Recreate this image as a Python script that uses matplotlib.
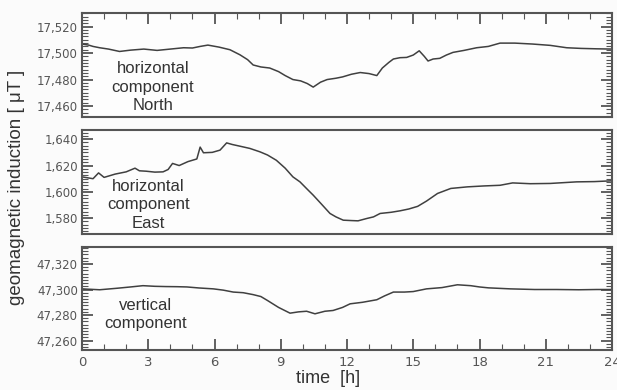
import matplotlib
matplotlib.use('Agg')
import matplotlib.pyplot as plt
from matplotlib.ticker import MultipleLocator, FuncFormatter

# hours
t_north = [0, 0.3, 0.5, 0.8, 1.2, 1.7, 2.2, 2.8, 3.4, 4.0, 4.6, 5.0, 5.35, 5.7, 6.2, 6.7,
           7.15, 7.5, 7.75, 8.1, 8.5, 8.9, 9.2, 9.55, 9.9, 10.2, 10.47, 10.8, 11.1, 11.5,
           11.8, 12.2, 12.6, 13.0, 13.35, 13.6, 13.9, 14.1, 14.4, 14.7, 15.0, 15.27, 15.5,
           15.67, 15.9, 16.2, 16.5, 16.8, 17.3, 17.87, 18.4, 18.93, 19.6, 20.4, 21.2,
           21.95, 22.6, 23.3, 24]
north = [17.5068, 17.5060, 17.5050, 17.5040, 17.5030, 17.5012, 17.5022, 17.5030, 17.5020,
         17.5030, 17.5040, 17.5038, 17.5050, 17.5060, 17.5045, 17.5025, 17.4987, 17.4950,
         17.4910, 17.4895, 17.4887, 17.4860, 17.4830, 17.4800, 17.4790, 17.4770, 17.4743,
         17.4780, 17.4800, 17.4810, 17.4820, 17.4840, 17.4853, 17.4845, 17.4830, 17.4887,
         17.4930, 17.4955, 17.4965, 17.4967, 17.4985, 17.5017, 17.4975, 17.4940, 17.4955,
         17.4960, 17.4985, 17.5005, 17.5020, 17.5040, 17.5050, 17.5075, 17.5075, 17.5068,
         17.5058, 17.5040, 17.5035, 17.5032, 17.5030]

t_east = [0, 0.5, 0.75, 1.0, 1.5, 2.0, 2.4, 2.6, 2.9, 3.3, 3.67, 3.9, 4.1, 4.4, 4.8, 5.2,
          5.35, 5.5, 5.9, 6.25, 6.55, 6.8, 7.15, 7.6, 8.06, 8.4, 8.8, 9.2, 9.55, 9.87, 10.2,
          10.47, 10.8, 11.23, 11.5, 11.83, 12.2, 12.5, 12.9, 13.2, 13.5, 14.0, 14.4, 14.8,
          15.2, 15.6, 16.1, 16.7, 17.45, 18.2, 18.93, 19.5, 20.3, 21.2, 21.8, 22.4, 23.2, 24]
east = [1.6114, 1.6100, 1.6144, 1.6110, 1.6135, 1.6152, 1.6180, 1.6160, 1.6157, 1.6150,
        1.6152, 1.6170, 1.6216, 1.6200, 1.6230, 1.6250, 1.6340, 1.6297, 1.6300, 1.6317,
        1.6372, 1.6360, 1.6347, 1.6330, 1.6304, 1.6280, 1.6240, 1.6180, 1.6114, 1.6076,
        1.6020, 1.5975, 1.5915, 1.5836, 1.5810, 1.5785, 1.5782, 1.5780, 1.5798, 1.5810,
        1.5836, 1.5845, 1.5856, 1.5870, 1.5890, 1.5930, 1.5988, 1.6026, 1.6038, 1.6045,
        1.6050, 1.6068, 1.6062, 1.6064, 1.6070, 1.6076, 1.6078, 1.6084]

t_vert = [0, 0.8, 1.6, 2.2, 2.76, 3.3, 3.8, 4.3, 4.75, 5.3, 5.95, 6.4, 6.85, 7.3, 7.75, 8.1,
          8.4, 8.9, 9.42, 9.8, 10.17, 10.55, 11.0, 11.37, 11.8, 12.14, 12.7, 13.35, 13.7,
          14.1, 14.6, 15.0, 15.6, 16.3, 17.0, 17.6, 18.0, 18.4, 19.4, 20.5, 21.5, 22.5,
          23.3, 24]
vert = [47.3005, 47.2998, 47.3010, 47.3020, 47.3030, 47.3025, 47.3023, 47.3022, 47.3020,
        47.3012, 47.3005, 47.2995, 47.2980, 47.2975, 47.2960, 47.2945, 47.2914, 47.2860,
        47.2815, 47.2825, 47.2830, 47.2810, 47.2830, 47.2836, 47.2860, 47.2888, 47.2900,
        47.2920, 47.2950, 47.2980, 47.2980, 47.2984, 47.3005, 47.3015, 47.3037, 47.3030,
        47.3020, 47.3013, 47.3005, 47.3000, 47.3000, 47.2998, 47.3000, 47.3000]

panels = [
    (t_north, north, (17.4515, 17.530), [17.46, 17.48, 17.50, 17.52],
     'horizontal\ncomponent\nNorth', (0.134, 0.29)),
    (t_east, east, (1.568, 1.647), [1.58, 1.60, 1.62, 1.64],
     'horizontal\ncomponent\nEast', (0.125, 0.279)),
    (t_vert, vert, (47.2527, 47.3335), [47.26, 47.28, 47.30, 47.32],
     'vertical\ncomponent', (0.119, 0.345)),
]

boxes = [(0.1329, 0.6992, 0.859, 0.2667),
         (0.1329, 0.4000, 0.859, 0.2667),
         (0.1329, 0.1026, 0.859, 0.2649)]

spine_col = '#555555'
text_col = '#333333'


def comma_fmt(v, pos):
    s = '%.3f' % v
    return s.replace('.', ',')


fig = plt.figure(figsize=(6.17, 3.90), dpi=100, facecolor='#fbfbfb')

for i, ((tt, vv, ylim, yt, label, tpos), box) in enumerate(zip(panels, boxes)):
    ax = fig.add_axes(box, facecolor='#fdfdfd')
    ax.plot(tt, vv, color='#404040', lw=1.1)
    ax.set_xlim(0, 24)
    ax.set_ylim(*ylim)
    ax.set_yticks(yt)
    ax.yaxis.set_minor_locator(MultipleLocator(0.0025))
    ax.yaxis.set_major_formatter(FuncFormatter(comma_fmt))
    ax.xaxis.set_major_locator(MultipleLocator(3))
    ax.xaxis.set_minor_locator(MultipleLocator(1))
    for sp in ax.spines.values():
        sp.set_color(spine_col)
        sp.set_linewidth(1.5)
    ax.tick_params(axis='y', which='both', direction='in', left=True, right=True,
                   color=spine_col, labelsize=8.5, labelcolor='#555555', pad=3)
    ax.tick_params(axis='y', which='major', length=8, width=1.3)
    ax.tick_params(axis='y', which='minor', length=4, width=0.8)
    ax.tick_params(axis='x', which='both', direction='in', color=spine_col,
                   labelsize=9.5, labelcolor='#555555',
                   top=(i == 0), bottom=(i == 2), labelbottom=(i == 2))
    ax.tick_params(axis='x', which='major', length=8, width=1.3, pad=4)
    ax.tick_params(axis='x', which='minor', length=4, width=0.8)
    ax.text(tpos[0], tpos[1], label, transform=ax.transAxes, ha='center', va='center',
            fontsize=12, family='Liberation Sans', color=text_col, linespacing=1.28)

fig.text(0.532, 0.03, 'time  [h]', ha='center', va='center', fontsize=13,
         family='Liberation Sans', color=text_col)
fig.text(0.026, 0.52, 'geomagnetic induction [ \u03bcT ]', rotation=90, ha='center',
         va='center', fontsize=13.5, family='Liberation Sans', color=text_col)

fig.savefig('out.png', dpi=100, facecolor=fig.get_facecolor())
